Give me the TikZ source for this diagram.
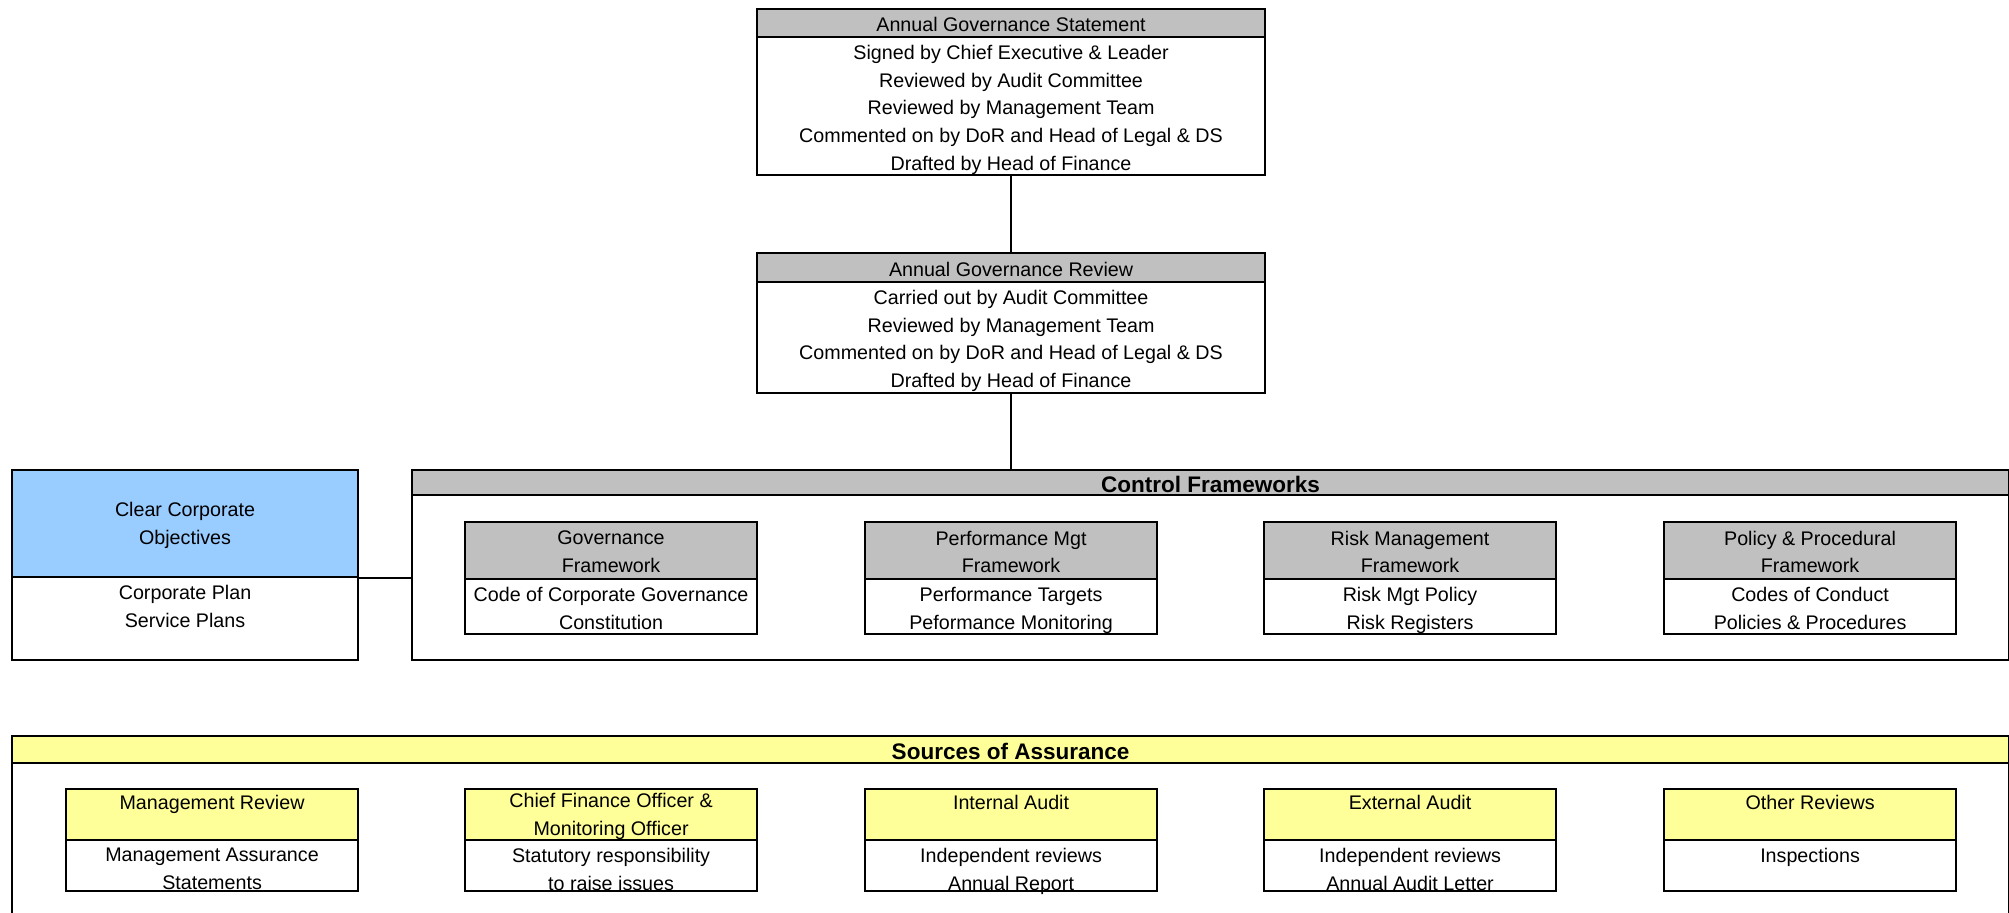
\documentclass[tikz,border=0pt]{standalone}
\usepackage{fontspec}
\setmainfont{Liberation Sans}
\usetikzlibrary{calc}
\definecolor{hdrgrey}{HTML}{C0C0C0}
\definecolor{hdrblue}{HTML}{99CCFF}
\definecolor{hdryellow}{HTML}{FFFF99}
\newcommand\titlefont{\fontsize{6.4}{8}\selectfont\bfseries}

\begin{document}
\begin{tikzpicture}[x=0.01cm, y=-0.01cm, line width=0.6pt,
    every node/.style={font=\fontsize{5.6}{7.95}\selectfont},
    box/.style={draw, fill=white, inner sep=0pt, anchor=north west},
    hdr/.style={draw, inner sep=0pt, anchor=north},
    txt/.style={align=center, inner sep=0pt}]

    \useasboundingbox (0,0) rectangle (2009,912);

    % name, x, y, width, height, header height, colour, header text, body text
    \newcommand\govbox[9]{%
        \node[box, minimum width=#4*0.01cm, minimum height=#5*0.01cm] (#1) at (#2,#3) {};
        \node[hdr, fill=#7, minimum width=#4*0.01cm, minimum height=#6*0.01cm] (#1-h) at (#1.north) {};
        \node[txt, yshift=-0.4pt] (#1-t) at (#1-h.center) {#8};
        \node[txt, anchor=north, yshift=-1.6pt] (#1-b) at (#1-h.south) {#9};
    }

    % governance statement and review
    \govbox{ags}{756}{8}{508}{166}{28}{hdrgrey}{Annual Governance Statement}{Signed by Chief Executive \& Leader\\Reviewed by Audit Committee\\Reviewed by Management Team\\Commented on by DoR and Head of Legal \& DS\\Drafted by Head of Finance}
    \govbox{agr}{756}{252}{508}{140}{29}{hdrgrey}{Annual Governance Review}{Carried out by Audit Committee\\Reviewed by Management Team\\Commented on by DoR and Head of Legal \& DS\\Drafted by Head of Finance}

    % objectives and control frameworks
    \govbox{cco}{11}{469}{346}{190}{107}{hdrblue}{Clear Corporate\\Objectives}{Corporate Plan\\Service Plans}
    \govbox{cf}{411}{469}{1597}{190}{25}{hdrgrey}{\titlefont Control Frameworks}{}
    \govbox{gov}{464}{521}{292}{112}{57}{hdrgrey}{Governance\\Framework}{Code of Corporate Governance\\Constitution}
    \govbox{perf}{864}{521}{292}{112}{57}{hdrgrey}{Performance Mgt\\Framework}{Performance Targets\\Peformance Monitoring}
    \govbox{risk}{1263}{521}{292}{112}{57}{hdrgrey}{Risk Management\\Framework}{Risk Mgt Policy\\Risk Registers}
    \govbox{pol}{1663}{521}{292}{112}{57}{hdrgrey}{Policy \& Procedural\\Framework}{Codes of Conduct\\Policies \& Procedures}

    % sources of assurance
    \govbox{soa}{11}{735}{1997}{220}{27}{hdryellow}{\titlefont Sources of Assurance}{}
    \govbox{mr}{65}{788}{292}{102}{51}{hdryellow}{Management Review\\~}{Management Assurance\\Statements}
    \govbox{cfo}{464}{788}{292}{102}{51}{hdryellow}{Chief Finance Officer \&\\Monitoring Officer}{Statutory responsibility\\to raise issues}
    \govbox{ia}{864}{788}{292}{102}{51}{hdryellow}{Internal Audit\\~}{Independent reviews\\Annual Report}
    \govbox{ea}{1263}{788}{292}{102}{51}{hdryellow}{External Audit\\~}{Independent reviews\\Annual Audit Letter}
    \govbox{oth}{1663}{788}{292}{102}{51}{hdryellow}{Other Reviews\\~}{Inspections}

    % links
    \draw (ags.south) -- (agr.north);
    \draw (agr.south) -- (agr.south |- cf.north);
    \draw (cco-h.south east) -- (cco-h.south east -| cf.west);
\end{tikzpicture}
\end{document}
